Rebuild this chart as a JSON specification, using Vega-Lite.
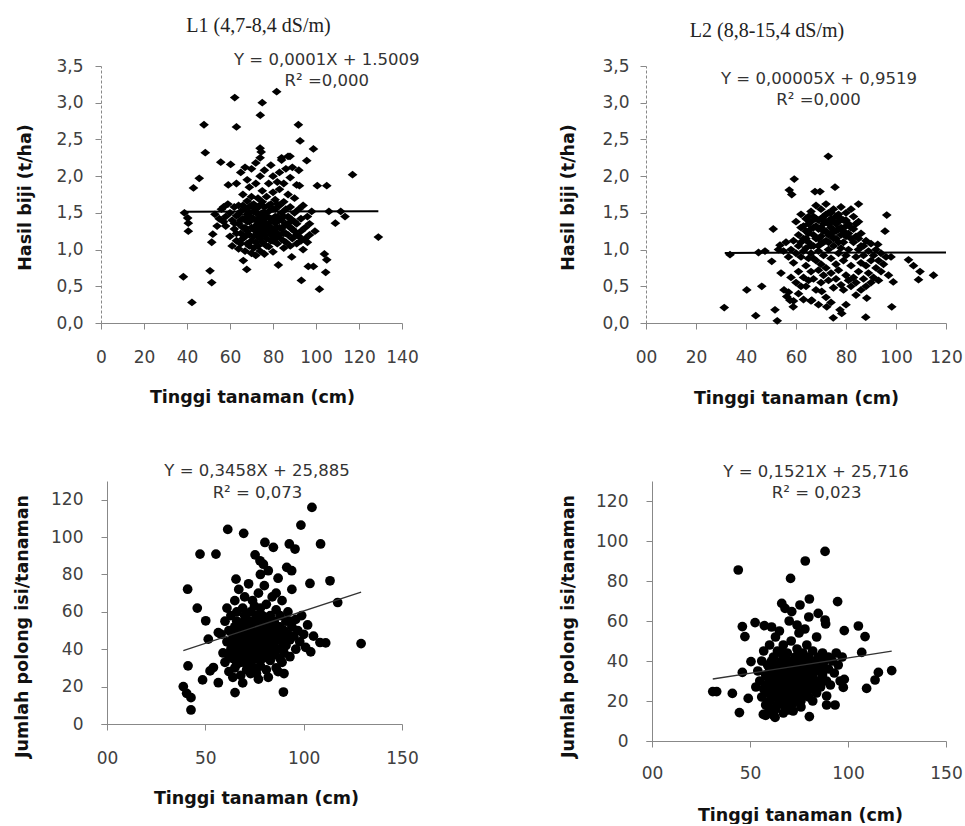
{
  "$schema": "https://vega.github.io/schema/vega-lite/v6.json",
  "background": "white",
  "padding": {"left": 13, "top": 16, "right": 5, "bottom": 0},
  "columns": 2,
  "spacing": {"row": 158, "column": 244},
  "bounds": "flush",
  "config": {
    "view": {"stroke": null},
    "axis": {
      "grid": false,
      "labelFont": "DejaVu Sans",
      "labelFontSize": 17,
      "labelColor": "#404040",
      "titleFont": "DejaVu Sans",
      "titleFontSize": 17.5,
      "titleFontWeight": "bold",
      "titleColor": "#111111",
      "domainColor": "#888888",
      "tickColor": "#888888",
      "tickSize": 6,
      "labelFlush": false,
      "labelOverlap": false
    },
    "title": {"font": "Liberation Serif", "fontSize": 20, "fontWeight": "normal", "color": "#222222"}
  },
  "datasets": {
    "d1": [
      {"x":62.2,"y":3.07},{"x":81.7,"y":3.15},{"x":75,"y":3.0},{"x":74.1,"y":2.83},{"x":47.9,"y":2.7},{"x":63,"y":2.67},{"x":91.8,"y":2.7},{"x":92.6,"y":2.48},{"x":48.5,"y":2.32},{"x":98.8,"y":2.37},{"x":74,"y":2.38},{"x":74.5,"y":2.33},{"x":45.7,"y":1.97},{"x":43,"y":1.84},{"x":117,"y":2.02},{"x":55.7,"y":2.19},{"x":60.3,"y":2.16},{"x":84,"y":2.25},{"x":87.9,"y":2.27},{"x":95.7,"y":2.21},{"x":92.3,"y":1.87},{"x":100.6,"y":1.87},{"x":105,"y":1.87},{"x":59.2,"y":1.88},{"x":38.8,"y":1.5},{"x":40.3,"y":1.43},{"x":40.6,"y":1.36},{"x":40.6,"y":1.25},{"x":129,"y":1.17},{"x":109,"y":1.36},{"x":113.5,"y":1.45},{"x":111.5,"y":1.52},{"x":106,"y":1.52},{"x":98,"y":1.52},{"x":99.5,"y":1.25},{"x":38.3,"y":0.63},{"x":42.3,"y":0.28},{"x":50.7,"y":0.71},{"x":51.5,"y":0.55},{"x":66.2,"y":0.85},{"x":67.8,"y":0.73},{"x":82.5,"y":0.79},{"x":93.2,"y":0.58},{"x":96.4,"y":0.77},{"x":98.8,"y":0.77},{"x":103.9,"y":0.94},{"x":105,"y":0.86},{"x":104.5,"y":0.69},{"x":101.6,"y":0.46},{"x":88.7,"y":0.9},{"x":52,"y":1.21},{"x":51.5,"y":1.1},
      {"x":56,"y":1.55},{"x":57,"y":1.38},{"x":58,"y":1.32},{"x":58,"y":1.45},{"x":59,"y":1.62},{"x":60,"y":1.18},{"x":60,"y":1.5},{"x":61,"y":1.4},{"x":61,"y":1.05},{"x":62,"y":1.58},{"x":62,"y":1.28},{"x":63,"y":1.12},{"x":63,"y":1.46},{"x":63,"y":1.9},{"x":64,"y":1.01},{"x":64,"y":1.35},{"x":64,"y":1.6},{"x":65,"y":1.22},{"x":65,"y":1.52},{"x":65,"y":2.05},{"x":66,"y":1.15},{"x":66,"y":1.42},{"x":66,"y":1.75},{"x":67,"y":0.98},{"x":67,"y":1.3},{"x":67,"y":1.55},{"x":67,"y":2.12},{"x":68,"y":1.08},{"x":68,"y":1.48},{"x":68,"y":1.66},{"x":68,"y":1.95},{"x":69,"y":1.2},{"x":69,"y":1.38},{"x":69,"y":1.58},{"x":69,"y":1.85},{"x":70,"y":0.95},{"x":70,"y":1.12},{"x":70,"y":1.44},{"x":70,"y":1.72},{"x":70,"y":2.1},{"x":71,"y":1.02},{"x":71,"y":1.3},{"x":71,"y":1.52},{"x":71,"y":1.62},{"x":72,"y":0.92},{"x":72,"y":1.25},{"x":72,"y":1.4},{"x":72,"y":1.55},{"x":72,"y":1.9},{"x":72,"y":2.18},{"x":73,"y":1.05},{"x":73,"y":1.18},{"x":73,"y":1.35},{"x":73,"y":1.48},{"x":73,"y":1.7},{"x":74,"y":0.98},{"x":74,"y":1.28},{"x":74,"y":1.44},{"x":74,"y":1.6},{"x":74,"y":2.0},{"x":74,"y":2.25},{"x":75,"y":1.1},{"x":75,"y":1.22},{"x":75,"y":1.5},{"x":75,"y":1.65},{"x":75,"y":1.8},{"x":76,"y":0.94},{"x":76,"y":1.32},{"x":76,"y":1.42},{"x":76,"y":1.58},{"x":76,"y":2.08},{"x":77,"y":1.15},{"x":77,"y":1.26},{"x":77,"y":1.46},{"x":77,"y":1.72},{"x":78,"y":1.04},{"x":78,"y":1.36},{"x":78,"y":1.52},{"x":78,"y":1.9},{"x":79,"y":1.2},{"x":79,"y":1.3},{"x":79,"y":1.62},{"x":79,"y":2.15},{"x":80,"y":0.97},{"x":80,"y":1.12},{"x":80,"y":1.42},{"x":80,"y":1.78},{"x":80,"y":2.0},{"x":81,"y":1.24},{"x":81,"y":1.36},{"x":81,"y":1.55},{"x":81,"y":1.68},{"x":82,"y":1.08},{"x":82,"y":1.18},{"x":82,"y":1.45},{"x":82,"y":1.92},{"x":83,"y":1.3},{"x":83,"y":1.6},{"x":83,"y":1.82},{"x":83,"y":2.05},{"x":84,"y":1.14},{"x":84,"y":1.4},{"x":84,"y":1.5},{"x":84,"y":2.22},{"x":85,"y":1.02},{"x":85,"y":1.22},{"x":85,"y":1.65},{"x":85,"y":1.9},{"x":86,"y":1.1},{"x":86,"y":1.35},{"x":86,"y":1.55},{"x":86,"y":2.1},{"x":87,"y":1.2},{"x":87,"y":1.45},{"x":87,"y":1.75},{"x":87,"y":2.27},{"x":88,"y":1.05},{"x":88,"y":1.3},{"x":88,"y":1.58},{"x":88,"y":1.98},{"x":89,"y":1.15},{"x":89,"y":1.4},{"x":89,"y":2.12},{"x":90,"y":1.25},{"x":90,"y":1.5},{"x":90,"y":1.7},{"x":91,"y":1.08},{"x":91,"y":1.35},{"x":91,"y":1.88},{"x":92,"y":1.18},{"x":92,"y":1.55},{"x":92,"y":2.08},{"x":93,"y":1.12},{"x":93,"y":1.42},{"x":93,"y":1.25},{"x":94,"y":1.0},{"x":94,"y":1.6},{"x":95,"y":1.3},{"x":95,"y":1.15},{"x":96,"y":1.45},{"x":96,"y":1.1},{"x":97,"y":1.35},{"x":97,"y":1.2},{"x":53,"y":1.48},{"x":54,"y":1.32},{"x":55,"y":1.42},{"x":57,"y":1.58},
      {"x":62,"y":1.36},{"x":63,"y":1.22},{"x":64,"y":1.48},{"x":65,"y":1.08},{"x":65,"y":1.4},{"x":66,"y":1.3},{"x":66,"y":1.6},{"x":67,"y":1.18},{"x":67,"y":1.42},{"x":68,"y":1.25},{"x":68,"y":1.38},{"x":69,"y":1.05},{"x":69,"y":1.5},{"x":70,"y":1.3},{"x":70,"y":1.6},{"x":71,"y":1.18},{"x":71,"y":1.42},{"x":72,"y":1.1},{"x":72,"y":1.32},{"x":73,"y":1.58},{"x":73,"y":1.25},{"x":74,"y":1.15},{"x":74,"y":1.36},{"x":75,"y":1.4},{"x":75,"y":1.3},{"x":76,"y":1.2},{"x":76,"y":1.5},{"x":77,"y":1.35},{"x":77,"y":1.05},{"x":78,"y":1.25},{"x":78,"y":1.6},{"x":79,"y":1.42},{"x":79,"y":1.12},{"x":80,"y":1.28},{"x":80,"y":1.55},{"x":81,"y":1.15},{"x":81,"y":1.45},{"x":82,"y":1.3},{"x":82,"y":1.62},{"x":83,"y":1.2},{"x":83,"y":1.4},{"x":84,"y":1.28},{"x":85,"y":1.45},{"x":85,"y":1.32},{"x":86,"y":1.22},{"x":87,"y":1.35},{"x":88,"y":1.42},{"x":89,"y":1.28},{"x":90,"y":1.38},{"x":91,"y":1.2}
    ],
    "d2": [
      {"x":72.9,"y":2.27},{"x":59.3,"y":1.96},{"x":57.3,"y":1.81},{"x":58.3,"y":1.75},{"x":75.6,"y":1.85},{"x":67.6,"y":1.79},{"x":69.6,"y":1.79},{"x":85,"y":1.62},{"x":96.3,"y":1.47},{"x":95.6,"y":1.25},{"x":92.7,"y":1.07},{"x":33.6,"y":0.93},{"x":45,"y":0.96},{"x":47.6,"y":0.98},{"x":50.3,"y":0.84},{"x":50.9,"y":1.28},{"x":53.6,"y":1.06},{"x":40.3,"y":0.45},{"x":46.3,"y":0.5},{"x":31.3,"y":0.21},{"x":43.9,"y":0.1},{"x":51.6,"y":0.18},{"x":52.5,"y":0.03},{"x":55.2,"y":0.45},{"x":56.3,"y":0.36},{"x":57.6,"y":0.31},{"x":58.9,"y":0.22},{"x":105,"y":0.86},{"x":107,"y":0.78},{"x":109.6,"y":0.7},{"x":109,"y":0.59},{"x":115,"y":0.65},{"x":98,"y":0.9},{"x":98.9,"y":0.56},{"x":98.3,"y":0.22},{"x":87.9,"y":0.08},{"x":74.9,"y":0.07},{"x":78.3,"y":0.13},{"x":72.3,"y":0.22},{"x":66.3,"y":0.31},{"x":70.3,"y":0.43},{"x":88.3,"y":0.34},{"x":77.6,"y":0.18},
      {"x":58,"y":1.0},{"x":58,"y":0.62},{"x":59,"y":1.12},{"x":59,"y":0.82},{"x":60,"y":1.38},{"x":60,"y":0.95},{"x":60,"y":0.55},{"x":61,"y":1.2},{"x":61,"y":1.05},{"x":61,"y":0.7},{"x":62,"y":1.48},{"x":62,"y":1.3},{"x":62,"y":0.9},{"x":62,"y":0.5},{"x":63,"y":1.15},{"x":63,"y":0.98},{"x":63,"y":0.62},{"x":64,"y":1.42},{"x":64,"y":1.25},{"x":64,"y":1.02},{"x":64,"y":0.78},{"x":64,"y":0.5},{"x":65,"y":1.35},{"x":65,"y":1.1},{"x":65,"y":0.88},{"x":65,"y":0.58},{"x":66,"y":1.52},{"x":66,"y":1.28},{"x":66,"y":0.95},{"x":66,"y":0.7},{"x":67,"y":1.45},{"x":67,"y":1.2},{"x":67,"y":1.05},{"x":67,"y":0.6},{"x":68,"y":1.6},{"x":68,"y":1.32},{"x":68,"y":0.85},{"x":68,"y":0.45},{"x":69,"y":1.4},{"x":69,"y":1.15},{"x":69,"y":0.98},{"x":69,"y":0.72},{"x":70,"y":1.55},{"x":70,"y":1.3},{"x":70,"y":1.08},{"x":70,"y":0.8},{"x":70,"y":0.55},{"x":71,"y":1.45},{"x":71,"y":1.25},{"x":71,"y":0.92},{"x":71,"y":0.65},{"x":72,"y":1.62},{"x":72,"y":1.38},{"x":72,"y":1.12},{"x":72,"y":0.75},{"x":72,"y":0.35},{"x":73,"y":1.5},{"x":73,"y":1.2},{"x":73,"y":1.0},{"x":73,"y":0.58},{"x":74,"y":1.42},{"x":74,"y":1.3},{"x":74,"y":0.88},{"x":74,"y":0.68},{"x":75,"y":1.55},{"x":75,"y":1.25},{"x":75,"y":1.05},{"x":75,"y":0.48},{"x":76,"y":1.35},{"x":76,"y":1.15},{"x":76,"y":0.8},{"x":76,"y":0.6},{"x":77,"y":1.48},{"x":77,"y":1.28},{"x":77,"y":0.95},{"x":77,"y":0.72},{"x":78,"y":1.58},{"x":78,"y":1.2},{"x":78,"y":1.02},{"x":78,"y":0.52},{"x":79,"y":1.4},{"x":79,"y":1.1},{"x":79,"y":0.85},{"x":79,"y":0.45},{"x":80,"y":1.5},{"x":80,"y":1.32},{"x":80,"y":0.92},{"x":80,"y":0.65},{"x":81,"y":1.22},{"x":81,"y":1.0},{"x":81,"y":0.58},{"x":82,"y":1.55},{"x":82,"y":1.3},{"x":82,"y":0.78},{"x":82,"y":0.5},{"x":83,"y":1.45},{"x":83,"y":1.1},{"x":83,"y":0.62},{"x":84,"y":1.18},{"x":84,"y":0.9},{"x":84,"y":0.55},{"x":85,"y":1.38},{"x":85,"y":1.0},{"x":85,"y":0.7},{"x":86,"y":1.22},{"x":86,"y":0.82},{"x":86,"y":0.45},{"x":87,"y":1.05},{"x":87,"y":0.92},{"x":87,"y":0.6},{"x":88,"y":1.12},{"x":88,"y":0.78},{"x":88,"y":0.5},{"x":89,"y":0.98},{"x":89,"y":0.68},{"x":90,"y":1.08},{"x":90,"y":0.85},{"x":90,"y":0.55},{"x":91,"y":0.92},{"x":91,"y":0.62},{"x":92,"y":1.0},{"x":92,"y":0.75},{"x":93,"y":0.85},{"x":93,"y":0.58},{"x":94,"y":0.95},{"x":94,"y":0.7},{"x":95,"y":0.8},{"x":96,"y":0.9},{"x":97,"y":0.65},{"x":56,"y":1.1},{"x":57,"y":0.9},{"x":55,"y":0.98},{"x":54,"y":0.68},{"x":53,"y":1.0},{"x":57,"y":0.42},{"x":59,"y":0.3},{"x":61,"y":0.4},{"x":63,"y":0.32},{"x":69,"y":0.25},{"x":74,"y":0.28},{"x":80,"y":0.25},{"x":66,"y":0.3},{"x":84,"y":0.38},
      {"x":62,"y":1.1},{"x":63,"y":1.32},{"x":64,"y":1.15},{"x":65,"y":1.45},{"x":65,"y":1.22},{"x":66,"y":1.05},{"x":66,"y":1.38},{"x":67,"y":1.3},{"x":67,"y":0.88},{"x":68,"y":1.15},{"x":68,"y":1.42},{"x":69,"y":1.28},{"x":69,"y":1.05},{"x":70,"y":1.42},{"x":70,"y":1.18},{"x":71,"y":1.35},{"x":71,"y":1.1},{"x":72,"y":1.25},{"x":72,"y":1.48},{"x":73,"y":1.35},{"x":73,"y":1.1},{"x":74,"y":1.2},{"x":74,"y":1.5},{"x":75,"y":1.38},{"x":75,"y":1.15},{"x":76,"y":1.25},{"x":76,"y":1.45},{"x":77,"y":1.1},{"x":77,"y":1.38},{"x":78,"y":1.3},{"x":78,"y":1.42},{"x":79,"y":1.25},{"x":80,"y":1.18},{"x":80,"y":1.4},{"x":81,"y":1.35},{"x":82,"y":1.15},{"x":83,"y":1.28},{"x":84,"y":1.35},{"x":85,"y":1.15},{"x":86,"y":1.05}
    ],
    "d3": [
      {"x":104.2,"y":115.9},{"x":98.6,"y":106.4},{"x":108.6,"y":96.3},{"x":61.4,"y":104.1},{"x":69.5,"y":102},{"x":47.3,"y":90.9},{"x":55.4,"y":90.9},{"x":80.3,"y":97.1},{"x":84.6,"y":94.5},{"x":92.7,"y":96.3},{"x":95.6,"y":93.6},{"x":75.3,"y":90.5},{"x":77.8,"y":87.3},{"x":79.5,"y":85.5},{"x":41,"y":72.1},{"x":113.4,"y":76.6},{"x":103.2,"y":75.2},{"x":117.3,"y":65},{"x":129.2,"y":43},{"x":111.2,"y":43.4},{"x":103.6,"y":38.6},{"x":41.2,"y":31.1},{"x":45.9,"y":62},{"x":50.2,"y":55.2},{"x":38.8,"y":20},{"x":40.5,"y":16.4},{"x":42.7,"y":14.1},{"x":42.7,"y":7.5},{"x":48.6,"y":23.6},{"x":56.6,"y":22.1},{"x":65.1,"y":16.8},{"x":89.7,"y":17.1},{"x":52.4,"y":28.4},{"x":54.1,"y":30.2},{"x":56.6,"y":48.9},{"x":51.5,"y":45.4},{"x":65.6,"y":77.5},{"x":91.4,"y":83.8},{"x":93.9,"y":82},{"x":108.3,"y":43.6},{"x":105,"y":47},
      {"x":58,"y":48},{"x":59,"y":38},{"x":60,"y":55},{"x":60,"y":33},{"x":61,"y":44},{"x":61,"y":62},{"x":62,"y":50},{"x":62,"y":28},{"x":63,"y":40},{"x":63,"y":58},{"x":64,"y":46},{"x":64,"y":35},{"x":65,"y":52},{"x":65,"y":66},{"x":65,"y":30},{"x":66,"y":42},{"x":66,"y":60},{"x":67,"y":48},{"x":67,"y":36},{"x":67,"y":72},{"x":68,"y":54},{"x":68,"y":40},{"x":68,"y":26},{"x":69,"y":45},{"x":69,"y":62},{"x":70,"y":50},{"x":70,"y":33},{"x":70,"y":68},{"x":71,"y":42},{"x":71,"y":56},{"x":71,"y":29},{"x":72,"y":47},{"x":72,"y":38},{"x":72,"y":75},{"x":73,"y":52},{"x":73,"y":60},{"x":73,"y":32},{"x":74,"y":44},{"x":74,"y":40},{"x":74,"y":66},{"x":75,"y":55},{"x":75,"y":35},{"x":75,"y":48},{"x":76,"y":42},{"x":76,"y":58},{"x":76,"y":27},{"x":77,"y":50},{"x":77,"y":38},{"x":77,"y":70},{"x":78,"y":45},{"x":78,"y":62},{"x":78,"y":31},{"x":79,"y":53},{"x":79,"y":40},{"x":80,"y":48},{"x":80,"y":36},{"x":80,"y":57},{"x":80,"y":74},{"x":81,"y":44},{"x":81,"y":64},{"x":81,"y":29},{"x":82,"y":51},{"x":82,"y":39},{"x":83,"y":47},{"x":83,"y":58},{"x":83,"y":34},{"x":84,"y":42},{"x":84,"y":68},{"x":85,"y":55},{"x":85,"y":37},{"x":85,"y":49},{"x":86,"y":45},{"x":86,"y":61},{"x":86,"y":30},{"x":87,"y":52},{"x":87,"y":40},{"x":87,"y":78},{"x":88,"y":47},{"x":88,"y":35},{"x":88,"y":58},{"x":89,"y":44},{"x":89,"y":66},{"x":90,"y":50},{"x":90,"y":38},{"x":90,"y":27},{"x":91,"y":55},{"x":91,"y":42},{"x":92,"y":48},{"x":92,"y":60},{"x":93,"y":45},{"x":93,"y":36},{"x":94,"y":52},{"x":94,"y":72},{"x":95,"y":47},{"x":96,"y":40},{"x":96,"y":56},{"x":97,"y":50},{"x":98,"y":44},{"x":99,"y":58},{"x":100,"y":48},{"x":101,"y":41},{"x":102,"y":53},{"x":64,"y":25},{"x":69,"y":22},{"x":73,"y":27},{"x":77,"y":24},{"x":82,"y":25},{"x":87,"y":28},{"x":62,"y":36},{"x":66,"y":32},{"x":76,"y":52},{"x":79,"y":46},{"x":84,"y":50},{"x":75,"y":63},{"x":70,"y":58},{"x":89,"y":33},{"x":93,"y":55},{"x":86,"y":70},{"x":82,"y":82},{"x":78,"y":80},
      {"x":64,"y":42},{"x":65,"y":48},{"x":66,"y":55},{"x":66,"y":38},{"x":67,"y":44},{"x":67,"y":52},{"x":68,"y":46},{"x":68,"y":33},{"x":69,"y":50},{"x":69,"y":39},{"x":70,"y":44},{"x":70,"y":55},{"x":71,"y":48},{"x":71,"y":36},{"x":72,"y":52},{"x":72,"y":42},{"x":73,"y":45},{"x":73,"y":38},{"x":74,"y":50},{"x":74,"y":55},{"x":75,"y":42},{"x":75,"y":30},{"x":76,"y":46},{"x":76,"y":35},{"x":77,"y":54},{"x":77,"y":44},{"x":78,"y":50},{"x":78,"y":40},{"x":79,"y":35},{"x":79,"y":58},{"x":80,"y":44},{"x":80,"y":52},{"x":81,"y":40},{"x":81,"y":48},{"x":82,"y":45},{"x":82,"y":56},{"x":83,"y":42},{"x":83,"y":52},{"x":84,"y":38},{"x":84,"y":46},{"x":85,"y":44},{"x":86,"y":50},{"x":86,"y":40},{"x":87,"y":46},{"x":88,"y":52},{"x":89,"y":48},{"x":90,"y":44}
    ],
    "d4": [
      {"x":88.3,"y":94.8},{"x":78.2,"y":90},{"x":44,"y":85.5},{"x":70.7,"y":81.3},{"x":80.3,"y":71},{"x":94.7,"y":69.7},{"x":66.2,"y":68.8},{"x":67.9,"y":66.3},{"x":71.3,"y":64.7},{"x":75.5,"y":68},{"x":84.8,"y":63.8},{"x":88.3,"y":60.5},{"x":88.6,"y":58.5},{"x":46.1,"y":57.2},{"x":52.6,"y":59.2},{"x":57.3,"y":57.7},{"x":47.4,"y":52.2},{"x":105.3,"y":57.5},{"x":108.7,"y":52.2},{"x":98.1,"y":55.2},{"x":107,"y":44.3},{"x":122.3,"y":35.2},{"x":115.5,"y":34.3},{"x":113.8,"y":30.5},{"x":109.5,"y":26.3},{"x":31,"y":24.7},{"x":33,"y":24.7},{"x":41,"y":23.8},{"x":44.6,"y":14.2},{"x":46.1,"y":34.3},{"x":49.1,"y":21.3},{"x":50.5,"y":39.7},{"x":56.8,"y":13.3},{"x":58,"y":12.8},{"x":62.8,"y":11.8},{"x":62,"y":13},{"x":69.6,"y":15.5},{"x":80.3,"y":12.2},{"x":89.1,"y":18},{"x":93.4,"y":18},{"x":89.1,"y":22.5},{"x":97.6,"y":26.8},{"x":98.1,"y":30.8},
      {"x":55,"y":30},{"x":56,"y":22},{"x":56,"y":40},{"x":57,"y":26},{"x":57,"y":45},{"x":58,"y":18},{"x":58,"y":33},{"x":59,"y":24},{"x":59,"y":38},{"x":60,"y":28},{"x":60,"y":48},{"x":60,"y":20},{"x":61,"y":35},{"x":61,"y":16},{"x":62,"y":30},{"x":62,"y":42},{"x":62,"y":22},{"x":63,"y":26},{"x":63,"y":38},{"x":63,"y":52},{"x":64,"y":18},{"x":64,"y":32},{"x":64,"y":45},{"x":65,"y":24},{"x":65,"y":36},{"x":65,"y":28},{"x":66,"y":20},{"x":66,"y":40},{"x":66,"y":34},{"x":67,"y":27},{"x":67,"y":48},{"x":67,"y":22},{"x":68,"y":31},{"x":68,"y":38},{"x":68,"y":17},{"x":69,"y":25},{"x":69,"y":44},{"x":69,"y":35},{"x":70,"y":29},{"x":70,"y":21},{"x":70,"y":40},{"x":71,"y":33},{"x":71,"y":50},{"x":71,"y":26},{"x":72,"y":37},{"x":72,"y":19},{"x":72,"y":30},{"x":73,"y":42},{"x":73,"y":24},{"x":73,"y":34},{"x":74,"y":28},{"x":74,"y":46},{"x":74,"y":22},{"x":75,"y":36},{"x":75,"y":31},{"x":75,"y":54},{"x":76,"y":25},{"x":76,"y":40},{"x":76,"y":20},{"x":77,"y":33},{"x":77,"y":44},{"x":78,"y":28},{"x":78,"y":38},{"x":78,"y":23},{"x":79,"y":35},{"x":79,"y":48},{"x":80,"y":30},{"x":80,"y":42},{"x":80,"y":22},{"x":81,"y":26},{"x":81,"y":37},{"x":82,"y":33},{"x":82,"y":45},{"x":82,"y":20},{"x":83,"y":28},{"x":83,"y":40},{"x":84,"y":35},{"x":84,"y":24},{"x":85,"y":42},{"x":85,"y":30},{"x":86,"y":38},{"x":86,"y":27},{"x":87,"y":44},{"x":87,"y":33},{"x":88,"y":36},{"x":88,"y":40},{"x":89,"y":30},{"x":90,"y":42},{"x":90,"y":36},{"x":91,"y":28},{"x":92,"y":40},{"x":93,"y":34},{"x":94,"y":44},{"x":95,"y":38},{"x":96,"y":30},{"x":97,"y":42},{"x":63,"y":16},{"x":67,"y":14},{"x":72,"y":15},{"x":76,"y":17},{"x":59,"y":14},{"x":53,"y":27},{"x":54,"y":35},{"x":78,"y":56},{"x":84,"y":52},{"x":70,"y":60},{"x":65,"y":55},{"x":61,"y":57},{"x":74,"y":58},{"x":80,"y":62},
      {"x":58,"y":28},{"x":59,"y":32},{"x":60,"y":36},{"x":60,"y":24},{"x":61,"y":30},{"x":61,"y":40},{"x":62,"y":26},{"x":62,"y":35},{"x":63,"y":32},{"x":63,"y":22},{"x":64,"y":28},{"x":64,"y":38},{"x":65,"y":33},{"x":65,"y":20},{"x":66,"y":30},{"x":66,"y":44},{"x":67,"y":35},{"x":67,"y":25},{"x":68,"y":28},{"x":68,"y":42},{"x":69,"y":32},{"x":69,"y":20},{"x":70,"y":36},{"x":70,"y":25},{"x":71,"y":30},{"x":71,"y":38},{"x":72,"y":34},{"x":72,"y":26},{"x":73,"y":30},{"x":73,"y":38},{"x":74,"y":33},{"x":74,"y":40},{"x":75,"y":26},{"x":75,"y":42},{"x":76,"y":32},{"x":76,"y":36},{"x":77,"y":28},{"x":77,"y":38},{"x":78,"y":33},{"x":79,"y":26},{"x":79,"y":40},{"x":80,"y":35},{"x":81,"y":32},{"x":82,"y":38},{"x":83,"y":35},{"x":84,"y":30}
    ],
    "l1": [{"x":38.8,"y":1.514},{"x":129,"y":1.523}],
    "l2": [{"x":31.5,"y":0.955},{"x":120,"y":0.96}],
    "l3": [{"x":38.8,"y":39.3},{"x":129.2,"y":70.6}],
    "l4": [{"x":31,"y":31},{"x":122.3,"y":44.9}],
    "t1": [{"x":105,"y":3.58,"t":"Y = 0,0001X + 1.5009"},{"x":105,"y":3.30,"t":"R² =0,000"}],
    "t2": [{"x":69.2,"y":3.32,"t":"Y = 0,00005X + 0,9519"},{"x":69,"y":3.04,"t":"R² =0,000"}],
    "t3": [{"x":76.3,"y":135.5,"t":"Y = 0,3458X + 25,885"},{"x":76.5,"y":123.7,"t":"R² = 0,073"}],
    "t4": [{"x":83.7,"y":134.5,"t":"Y = 0,1521X + 25,716"},{"x":84,"y":124,"t":"R² = 0,023"}]
  },
  "concat": [
    {
      "width": 301, "height": 257,
      "title": {"text": "L1 (4,7-8,4 dS/m)", "anchor": "middle", "offset": 16, "dx": 7},
      "encoding": {
        "x": {"field": "x", "type": "quantitative", "scale": {"domain": [0, 140], "nice": false, "zero": false},
          "axis": {"values": [0,20,40,60,80,100,120,140], "title": "Tinggi tanaman (cm)", "labelBaseline": "middle", "labelPadding": 28, "titleX": 151, "titleY": 74, "titleBaseline": "middle", "titleAlign": "center"}},
        "y": {"field": "y", "type": "quantitative", "scale": {"domain": [0, 3.5], "nice": false, "zero": false},
          "axis": {"values": [0,0.5,1,1.5,2,2.5,3,3.5], "labelExpr": "replace(format(datum.value,'.1f'),'.',',')", "title": "Hasil biji (t/ha)", "labelPadding": 12, "domainDash": [3,2], "titleX": -76, "titleY": 131, "titleAngle": -90, "titleBaseline": "middle", "titleAlign": "center"}}
      },
      "layer": [
        {"data": {"name": "d1"}, "mark": {"type": "point", "shape": "M-1,0L0,-0.8L1,0L0,0.8Z", "filled": true, "size": 95, "color": "#000000", "opacity": 1}},
        {"data": {"name": "l1"}, "mark": {"type": "line", "color": "#000000", "strokeWidth": 2}},
        {"data": {"name": "t1"}, "mark": {"type": "text", "font": "DejaVu Sans", "fontSize": 16.5, "color": "#333333", "align": "center", "baseline": "middle"}, "encoding": {"text": {"field": "t"}}}
      ]
    },
    {
      "width": 300, "height": 257,
      "title": {"text": "L2 (8,8-15,4 dS/m)", "anchor": "middle", "offset": 16, "dx": -29},
      "encoding": {
        "x": {"field": "x", "type": "quantitative", "scale": {"domain": [0, 120], "nice": false, "zero": false},
          "axis": {"values": [0,20,40,60,80,100,120], "labelExpr": "datum.value == 0 ? '00' : datum.label", "title": "Tinggi tanaman (cm)", "labelBaseline": "middle", "labelPadding": 28, "titleX": 150, "titleY": 75, "titleBaseline": "middle", "titleAlign": "center"}},
        "y": {"field": "y", "type": "quantitative", "scale": {"domain": [0, 3.5], "nice": false, "zero": false},
          "axis": {"values": [0,0.5,1,1.5,2,2.5,3,3.5], "labelExpr": "replace(format(datum.value,'.1f'),'.',',')", "title": "Hasil biji (t/ha)", "labelPadding": 11, "domainDash": [3,2], "titleX": -78, "titleY": 131, "titleAngle": -90, "titleBaseline": "middle", "titleAlign": "center"}}
      },
      "layer": [
        {"data": {"name": "d2"}, "mark": {"type": "point", "shape": "M-1,0L0,-0.8L1,0L0,0.8Z", "filled": true, "size": 95, "color": "#000000", "opacity": 1}},
        {"data": {"name": "l2"}, "mark": {"type": "line", "color": "#000000", "strokeWidth": 2}},
        {"data": {"name": "t2"}, "mark": {"type": "text", "font": "DejaVu Sans", "fontSize": 16.5, "color": "#333333", "align": "center", "baseline": "middle"}, "encoding": {"text": {"field": "t"}}}
      ]
    },
    {
      "width": 301, "height": 243,
      "encoding": {
        "x": {"field": "x", "type": "quantitative", "scale": {"domain": [-3.05, 150], "nice": false, "zero": false},
          "axis": {"values": [0,50,100,150], "labelExpr": "datum.value == 0 ? '00' : datum.label", "title": "Tinggi tanaman (cm)", "labelBaseline": "middle", "labelPadding": 28, "titleX": 155, "titleY": 74, "titleBaseline": "middle", "titleAlign": "center"}},
        "y": {"field": "y", "type": "quantitative", "scale": {"domain": [0, 130], "nice": false, "zero": false},
          "axis": {"values": [0,20,40,60,80,100,120], "title": "Jumlah polong isi/tanaman", "offset": -6, "labelPadding": 18, "titleX": -85, "titleY": 145, "titleAngle": -90, "titleBaseline": "middle", "titleAlign": "center"}}
      },
      "layer": [
        {"data": {"name": "d3"}, "mark": {"type": "circle", "size": 95, "color": "#000000", "opacity": 1}},
        {"data": {"name": "l3"}, "mark": {"type": "line", "color": "#333333", "strokeWidth": 1.3}},
        {"data": {"name": "t3"}, "mark": {"type": "text", "font": "DejaVu Sans", "fontSize": 16.5, "color": "#333333", "align": "center", "baseline": "middle"}, "encoding": {"text": {"field": "t"}}}
      ]
    },
    {
      "width": 300, "height": 260,
      "encoding": {
        "x": {"field": "x", "type": "quantitative", "scale": {"domain": [-3.06, 150], "nice": false, "zero": false},
          "axis": {"values": [0,50,100,150], "labelExpr": "datum.value == 0 ? '00' : datum.label", "title": "Tinggi tanaman (cm)", "labelBaseline": "middle", "labelPadding": 26, "titleX": 154, "titleY": 74, "titleBaseline": "middle", "titleAlign": "center"}},
        "y": {"field": "y", "type": "quantitative", "scale": {"domain": [0, 130], "nice": false, "zero": false},
          "axis": {"values": [0,20,40,60,80,100,120], "title": "Jumlah polong isi/tanaman", "offset": -6, "labelPadding": 18, "titleX": -84, "titleY": 145, "titleAngle": -90, "titleBaseline": "middle", "titleAlign": "center"}}
      },
      "layer": [
        {"data": {"name": "d4"}, "mark": {"type": "circle", "size": 95, "color": "#000000", "opacity": 1}},
        {"data": {"name": "l4"}, "mark": {"type": "line", "color": "#333333", "strokeWidth": 1.3}},
        {"data": {"name": "t4"}, "mark": {"type": "text", "font": "DejaVu Sans", "fontSize": 16.5, "color": "#333333", "align": "center", "baseline": "middle"}, "encoding": {"text": {"field": "t"}}}
      ]
    }
  ]
}
